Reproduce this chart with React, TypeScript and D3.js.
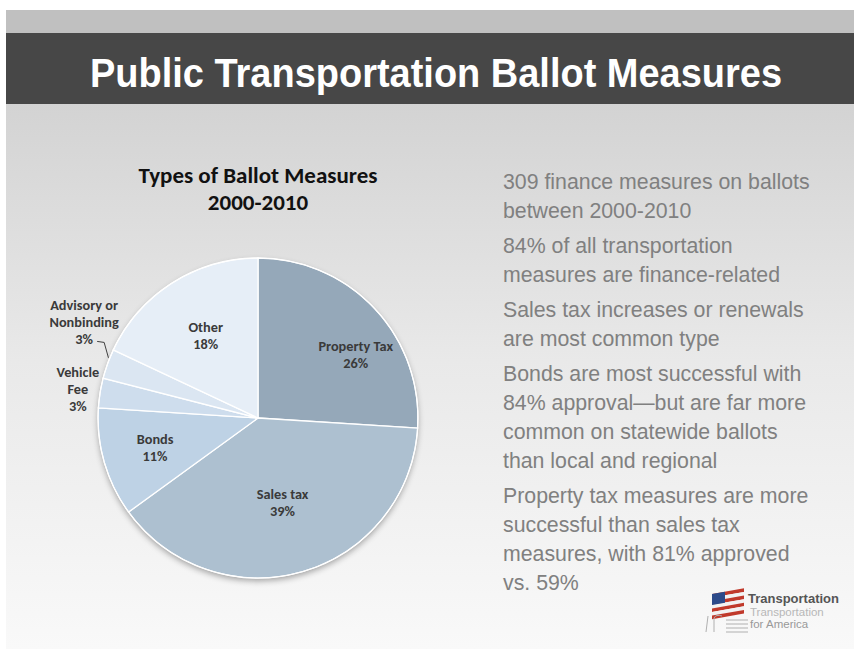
import { useEffect, useRef } from 'react'
import * as d3 from 'd3'

const W = 854
const H = 649

// pie data, clockwise from 12 o'clock
const categories = ['Property Tax', 'Sales tax', 'Bonds', 'Vehicle Fee', 'Advisory or Nonbinding', 'Other']
const shares = [26, 39, 11, 3, 3, 18]
const sliceColors = ['#95a8b9', '#adc0d0', '#bed2e5', '#cedded', '#dbe6f2', '#e6eef7']
// label text lines per slice
const labelLines = [
  ['Property Tax', '26%'],
  ['Sales tax', '39%'],
  ['Bonds', '11%'],
  ['Vehicle', 'Fee', '3%'],
  ['Advisory or', 'Nonbinding', '3%'],
  ['Other', '18%'],
]

const bullets = [
  ['309 finance measures on ballots', 'between 2000-2010'],
  ['84% of all transportation', 'measures are finance-related'],
  ['Sales tax increases or renewals', 'are most common type'],
  ['Bonds are most successful with', '84% approval\u2014but are far more', 'common on statewide ballots', 'than local and regional'],
  ['Property tax measures are more', 'successful than sales tax', 'measures, with 81% approved', 'vs. 59%'],
]

export default function App() {
  const ref = useRef<SVGSVGElement>(null)

  useEffect(() => {
    if (!ref.current) return
    const svg = d3.select(ref.current)
    svg.selectAll('*').remove()

    const defs = svg.append('defs')
    const bg = defs.append('linearGradient').attr('id', 'bg').attr('x1', 0).attr('y1', 0).attr('x2', 0).attr('y2', 1)
    bg.append('stop').attr('offset', '0%').attr('stop-color', '#cbcbcb')
    bg.append('stop').attr('offset', '55%').attr('stop-color', '#e9e9e9')
    bg.append('stop').attr('offset', '100%').attr('stop-color', '#f9f9f9')
    const sh = defs.append('filter').attr('id', 'shadow').attr('x', '-10%').attr('y', '-10%').attr('width', '120%').attr('height', '125%')
    sh.append('feGaussianBlur').attr('in', 'SourceAlpha').attr('stdDeviation', 3)
    sh.append('feOffset').attr('dy', 3).attr('result', 'b')
    sh.append('feComponentTransfer').append('feFuncA').attr('type', 'linear').attr('slope', 0.35)
    const m = sh.append('feMerge')
    m.append('feMergeNode')
    m.append('feMergeNode').attr('in', 'SourceGraphic')

    // slide background
    svg.append('rect').attr('width', W).attr('height', H).attr('fill', '#ffffff')
    svg.append('rect').attr('x', 6).attr('y', 10).attr('width', W - 6).attr('height', H - 10).attr('fill', 'url(#bg)')
    svg.append('rect').attr('x', 6).attr('y', 10).attr('width', W - 6).attr('height', 23).attr('fill', '#c0c0c0')
    svg.append('rect').attr('x', 6).attr('y', 33).attr('width', W - 6).attr('height', 71).attr('fill', '#474747')

    svg.append('text')
      .attr('x', 436).attr('y', 87)
      .attr('text-anchor', 'middle')
      .attr('font-family', "'Liberation Sans Narrow', 'Liberation Sans', Arial, sans-serif")
      .attr('font-weight', 'bold')
      .attr('font-size', 40)
      .attr('fill', '#ffffff')
      .attr('textLength', 692)
      .attr('lengthAdjust', 'spacingAndGlyphs')
      .text('Public Transportation Ballot Measures')

    // chart title
    const calibri = "Carlito, Lato, 'Open Sans', sans-serif"
    const title = svg.append('text')
      .attr('text-anchor', 'middle')
      .attr('font-family', calibri)
      .attr('font-weight', 'bold')
      .attr('font-size', 23)
      .attr('fill', '#111111')
    title.append('tspan').attr('x', 258).attr('y', 183).text('Types of Ballot Measures')
    title.append('tspan').attr('x', 258).attr('y', 210).text('2000-2010')

    // pie
    const cx = 258
    const cy = 418
    const r = 160
    const pie = d3.pie<number>().sort(null).value(d => d)
    const arcs = pie(shares)
    const arc = d3.arc<d3.PieArcDatum<number>>().innerRadius(0).outerRadius(r)
    const g = svg.append('g').attr('transform', `translate(${cx},${cy})`)

    g.append('circle').attr('r', r).attr('fill', '#cccccc').attr('filter', 'url(#shadow)')
    g.selectAll('path.slice')
      .data(arcs)
      .join('path')
      .attr('class', 'slice')
      .attr('d', arc)
      .attr('fill', (_, i) => sliceColors[i])
      .attr('stroke', '#ffffff')
      .attr('stroke-width', 1.3)
      .append('title').text((d, i) => `${categories[i]}: ${d.data}%`)

    g.append('circle').attr('r', r).attr('fill', 'none').attr('stroke', '#ffffff').attr('stroke-width', 1.2)

    // label radius per slice (inside ones near 0.65r, small slices outside)
    const labelR = [0.73, 0.55, 0.67, 1.14, 1.24, 0.61]
    const labelShift = [10, 0, 0, 0, 9, 0]
    const lh = 17
    arcs.forEach((d, i) => {
      const a = (d.startAngle + d.endAngle) / 2 + (labelShift[i] * Math.PI) / 180
      const lr = r * labelR[i]
      const lx = Math.sin(a) * lr
      const ly = -Math.cos(a) * lr
      const lines = labelLines[i]
      const t = g.append('text')
        .attr('text-anchor', 'middle')
        .attr('font-family', calibri)
        .attr('font-weight', 'bold')
        .attr('font-size', 14.3)
        .attr('fill', '#3a3a3a')
      lines.forEach((ln, j) => {
        t.append('tspan')
          .attr('x', lx)
          .attr('y', ly + (j - (lines.length - 1) / 2) * lh + 5)
          .text(ln)
      })
    })

    // leader line for Advisory slice
    const adv = arcs[4]
    const am = (adv.startAngle + adv.endAngle) / 2
    const aa = am + (labelShift[4] * Math.PI) / 180
    const edge: [number, number] = [Math.sin(am) * r + 1, -Math.cos(am) * r - 6]
    const lab = labelR[4] * r
    const start: [number, number] = [Math.sin(aa) * lab + 13, -Math.cos(aa) * lab + 19]
    g.append('path')
      .attr('d', d3.line()([start, [start[0] + 7, start[1] + 1], edge]))
      .attr('fill', 'none')
      .attr('stroke', '#404040')
      .attr('stroke-width', 1)

    // bullet text
    const right = svg.append('g')
      .attr('font-family', "'Liberation Sans', Arial, sans-serif")
      .attr('font-size', 21.3)
      .attr('fill', '#808080')
    let y = 189
    bullets.forEach(p => {
      p.forEach(ln => {
        right.append('text').attr('x', 503).attr('y', y).text(ln)
        y += 29
      })
      y += 6
    })

    // logo
    const logo = svg.append('g').attr('transform', 'translate(712,594)')
    const stripes = d3.range(7)
    logo.selectAll('rect.st')
      .data(stripes)
      .join('rect')
      .attr('class', 'st')
      .attr('x', 0)
      .attr('y', d => d * 3.6)
      .attr('width', 32)
      .attr('height', 3.6)
      .attr('fill', d => (d % 2 === 0 ? '#c0392b' : '#f2f2f2'))
      .attr('transform', 'skewY(-10)')
    logo.append('rect').attr('x', 0).attr('y', 0).attr('width', 13).attr('height', 11).attr('fill', '#2c4a8a').attr('transform', 'skewY(-10)')
    logo.append('path')
      .attr('d', 'M-6,38 L-4,22 M2,38 L2,24 Q4,20 10,22 M14,26 H36 M14,30 H36 M14,34 H36 M14,38 H36')
      .attr('fill', 'none').attr('stroke', '#b0b0b0').attr('stroke-width', 1)
    logo.append('text').attr('x', 36).attr('y', 9)
      .attr('font-family', "'Liberation Sans', Arial, sans-serif").attr('font-weight', 'bold')
      .attr('font-size', 13).attr('fill', '#555555').text('Transportation')
    logo.append('text').attr('x', 38).attr('y', 22)
      .attr('font-family', "'Liberation Sans', Arial, sans-serif")
      .attr('font-size', 11.5).attr('fill', '#b8b8b8').text('Transportation')
    logo.append('text').attr('x', 38).attr('y', 34)
      .attr('font-family', "'Liberation Sans', Arial, sans-serif")
      .attr('font-size', 11.5).attr('fill', '#999999').text('for America')
  }, [])

  return (
    <div style={{ position: 'fixed', left: 0, top: 0 }}>
      <svg ref={ref} width={W} height={H} style={{ display: 'block' }} />
    </div>
  )
}
